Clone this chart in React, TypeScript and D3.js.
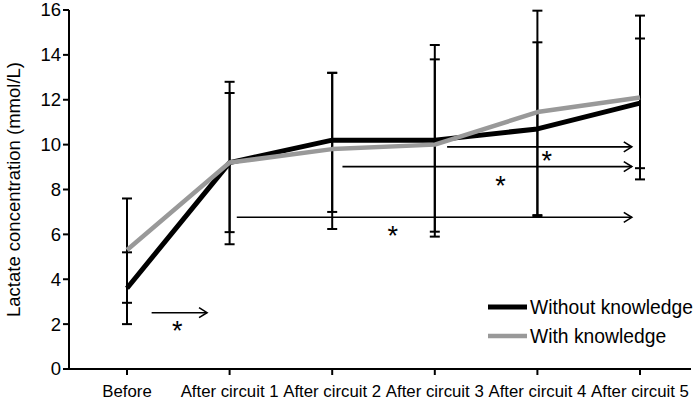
import React, { useEffect } from 'react';
import * as d3 from 'd3';

const categories = ['Before', 'After circuit 1', 'After circuit 2', 'After circuit 3', 'After circuit 4', 'After circuit 5'];
const withoutKnowledge = [3.6, 9.2, 10.2, 10.2, 10.7, 11.85];
const withKnowledge = [5.3, 9.2, 9.8, 10.0, 11.45, 12.1];
// error bar bounds
const withoutLow = [2.0, 5.56, 7.0, 5.9, 6.8, 8.95];
const withoutHigh = [5.2, 12.8, 13.2, 14.44, 14.56, 14.73];
const withLow = [2.95, 6.1, 6.24, 6.12, 6.86, 8.45];
const withHigh = [7.6, 12.3, 13.2, 13.8, 15.97, 15.75];
const yTicks = [0, 2, 4, 6, 8, 10, 12, 14, 16];

// significance arrows: from/to in category index, y in mmol/L, star position
const arrowFrom = [0.24, 1.07, 2.1, 3.12];
const arrowTo = [0.78, 4.92, 4.92, 4.92];
const arrowY = [2.51, 6.76, 9.02, 9.9];
const starX = [0.49, 2.59, 3.64, 4.09];
const starY = [1.89, 6.12, 8.33, 9.45];

const W = 696;
const H = 403;
const font = 'Liberation Sans, Arial, sans-serif';

const App = () => {
  useEffect(() => {
    document.body.style.margin = '0';
  }, []);

  const x = d3.scaleLinear().domain([0, categories.length - 1]).range([127, 640]);
  const y = d3.scaleLinear().domain([0, 16]).range([369, 10]);
  const axisLeft = 69;
  const axisRight = 691;

  const line = d3.line<number>()
    .x((_, i) => x(i))
    .y(d => y(d));

  const bars = (lo: number[], hi: number[], key: string) =>
    lo.map((l, i) => (
      <g key={key + i} stroke="#000" strokeWidth={2}>
        <line x1={x(i)} x2={x(i)} y1={y(l)} y2={y(hi[i])} />
        <line x1={x(i) - 5} x2={x(i) + 5} y1={y(l)} y2={y(l)} />
        <line x1={x(i) - 5} x2={x(i) + 5} y1={y(hi[i])} y2={y(hi[i])} />
      </g>
    ));

  return (
    <svg width={W} height={H} style={{ display: 'block', background: '#fff' }}>
      {/* axes */}
      <g stroke="#000" strokeWidth={2}>
        <line x1={axisLeft} x2={axisLeft} y1={y(16)} y2={y(0)} />
        <line x1={axisLeft} x2={axisRight} y1={y(0)} y2={y(0)} />
        {yTicks.map(t => (
          <line key={t} x1={axisLeft - 6} x2={axisLeft} y1={y(t)} y2={y(t)} />
        ))}
        {categories.map((c, i) => (
          <line key={c} x1={x(i)} x2={x(i)} y1={y(0)} y2={y(0) + 6} />
        ))}
      </g>
      {yTicks.map(t => (
        <text key={t} x={axisLeft - 8} y={y(t)} dy="0.35em" textAnchor="end"
          fontFamily={font} fontSize={18.5} fill="#000">{t}</text>
      ))}
      {categories.map((c, i) => (
        <text key={c} x={x(i)} y={397} textAnchor="middle"
          fontFamily={font} fontSize={16.8} fill="#000">{c}</text>
      ))}
      <text transform={`translate(20,${(y(16) + y(0)) / 2}) rotate(-90)`} textAnchor="middle"
        fontFamily={font} fontSize={18.5} fill="#000">Lactate concentration (mmol/L)</text>

      {/* error bars */}
      {bars(withoutLow, withoutHigh, 'wo')}
      {bars(withLow, withHigh, 'w')}

      {/* lines */}
      <path d={line(withoutKnowledge) || ''} fill="none" stroke="#000" strokeWidth={5} strokeLinejoin="round" />
      <path d={line(withKnowledge) || ''} fill="none" stroke="#999" strokeWidth={4.5} strokeLinejoin="round" />

      {/* significance arrows */}
      {arrowFrom.map((f, i) => {
        const x1 = x(f);
        const x2 = x(arrowTo[i]);
        const yy = y(arrowY[i]);
        return (
          <g key={'a' + i}>
            <g stroke="#000" strokeWidth={1.6} fill="none">
              <line x1={x1} x2={x2} y1={yy} y2={yy} />
              <path d={`M${x2 - 8},${yy - 5} L${x2},${yy} L${x2 - 8},${yy + 5}`} />
            </g>
            <text x={x(starX[i])} y={y(starY[i]) + 13} textAnchor="middle"
              fontFamily={font} fontSize={27} fill="#000">*</text>
          </g>
        );
      })}

      {/* legend */}
      <g>
        <line x1={488} x2={527} y1={307} y2={307} stroke="#000" strokeWidth={5} />
        <text x={530} y={307} dy="0.35em" fontFamily={font} fontSize={19.3} fill="#000">Without knowledge</text>
        <line x1={488} x2={527} y1={336} y2={336} stroke="#999" strokeWidth={4.5} />
        <text x={530} y={336} dy="0.35em" fontFamily={font} fontSize={19.3} fill="#000">With knowledge</text>
      </g>
    </svg>
  );
};

export default App;
